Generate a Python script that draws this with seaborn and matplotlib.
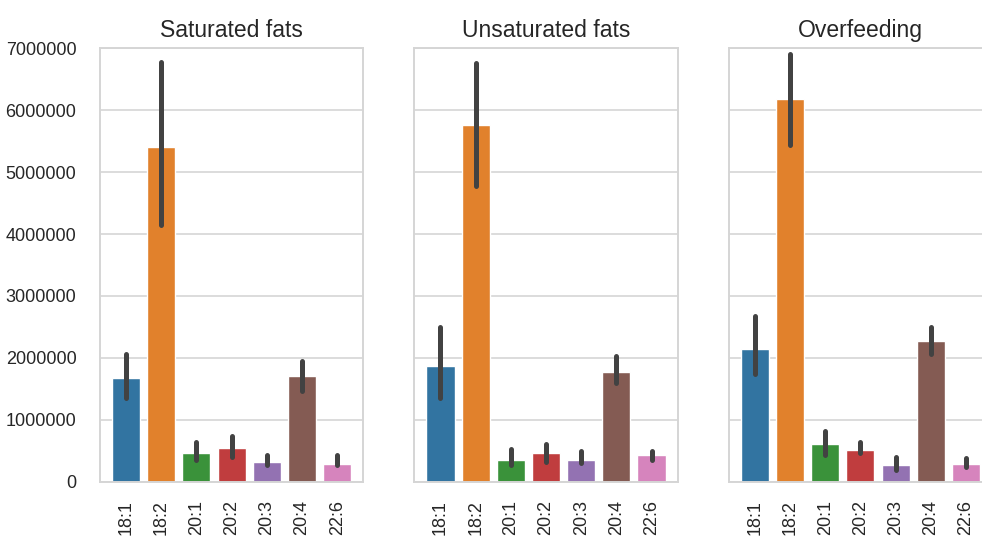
import matplotlib
matplotlib.use('Agg')
import matplotlib.pyplot as plt
import seaborn as sns

# valores (médias e intervalos das barras de erro)
lipids = ['18:1', '18:2', '20:1', '20:2', '20:3', '20:4', '22:6']
titles = ['Saturated fats', 'Unsaturated fats', 'Overfeeding']

sat_mean = [1685000, 5400000, 460000, 550000, 330000, 1710000, 290000]
sat_lo = [1350000, 4140000, 350000, 400000, 270000, 1475000, 270000]
sat_hi = [2070000, 6780000, 650000, 750000, 430000, 1950000, 430000]

unsat_mean = [1870000, 5760000, 360000, 460000, 360000, 1780000, 430000]
unsat_lo = [1360000, 4780000, 280000, 330000, 300000, 1600000, 360000]
unsat_hi = [2500000, 6760000, 540000, 620000, 500000, 2040000, 500000]

over_mean = [2140000, 6170000, 620000, 520000, 270000, 2270000, 290000]
over_lo = [1750000, 5430000, 430000, 460000, 200000, 2070000, 250000]
over_hi = [2670000, 6900000, 830000, 640000, 400000, 2500000, 380000]

groups = [
    (sat_mean, sat_lo, sat_hi),
    (unsat_mean, unsat_lo, unsat_hi),
    (over_mean, over_lo, over_hi),
]

sns.set_theme(style='whitegrid')
plt.rcParams['font.family'] = ['Liberation Sans', 'DejaVu Sans']

fig, axes = plt.subplots(1, 3, sharey=True, figsize=(9.82, 5.38), dpi=100)
fig.subplots_adjust(left=100 / 982, right=992 / 982, bottom=56 / 538,
                    top=490 / 538, wspace=51 / 262)

for ax, title, (mean, lo, hi) in zip(axes, titles, groups):
    sns.barplot(x=lipids, y=mean, hue=lipids, palette='tab10', legend=False,
                errorbar=None, ax=ax)
    for i in range(len(lipids)):
        ax.plot([i, i], [lo[i], hi[i]], color='.26', lw=3.6,
                solid_capstyle='round', zorder=3)
    ax.set_title(title, fontsize=16.5, pad=8)
    ax.set_ylim(0, 7000000)
    ax.set_yticks(range(0, 7000001, 1000000))
    ax.ticklabel_format(axis='y', style='plain')
    ax.tick_params(axis='x', labelrotation=90, labelsize=13, pad=7)
    ax.tick_params(axis='y', labelsize=13, pad=11)
    ax.grid(axis='y', color='#dcdcdc', lw=1.4)
    ax.grid(axis='x', visible=False)
    for s in ax.spines.values():
        s.set_color('#d5d5d5')
        s.set_linewidth(1.4)

plt.savefig('out.png', dpi=100)
